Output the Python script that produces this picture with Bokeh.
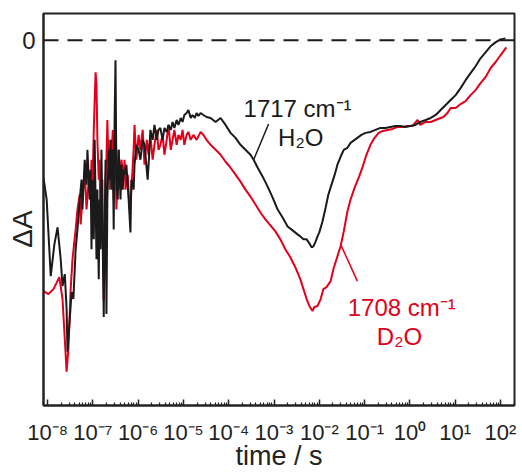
import math
from bokeh.plotting import figure
from bokeh.models import FixedTicker, CustomJSTickFormatter, Span, Label
from bokeh.embed import file_html
from bokeh.resources import INLINE

# ---- data: log10(time / s) and ΔA (arb. units) ----
black_logt = [-8.09, -8.02, -7.93, -7.85, -7.78, -7.71, -7.67, -7.62, -7.58, -7.56, -7.51, -7.47, -7.43, -7.38,
              -7.34, -7.29, -7.25, -7.23, -7.18, -7.14, -7.12, -7.07, -7.05, -7.03, -7.01, -6.98, -6.96, -6.94,
              -6.92, -6.90, -6.87, -6.85, -6.83, -6.81, -6.79, -6.76, -6.74, -6.72, -6.70, -6.68, -6.65, -6.63,
              -6.61, -6.59, -6.56, -6.54, -6.52, -6.50, -6.48, -6.45, -6.43, -6.41, -6.39, -6.37, -6.34, -6.32,
              -6.30, -6.26, -6.21, -6.17, -6.15, -6.10, -6.08, -6.04, -5.99, -5.95, -5.90, -5.86, -5.79, -5.75,
              -5.73, -5.68, -5.64, -5.59, -5.55, -5.51, -5.46, -5.42, -5.37, -5.33, -5.28, -5.24, -5.20, -5.15,
              -5.11, -5.06, -5.02, -4.98, -4.93, -4.89, -4.84, -4.80, -4.75, -4.71, -4.67, -4.62, -4.56, -4.49,
              -4.40, -4.29, -4.18, -4.07, -3.96, -3.85, -3.74, -3.63, -3.52, -3.45, -3.36, -3.25, -3.14, -3.03,
              -2.92, -2.81, -2.70, -2.59, -2.48, -2.42, -2.35, -2.28, -2.22, -2.17, -2.13, -2.08, -2.04, -2.00,
              -1.93, -1.86, -1.80, -1.73, -1.66, -1.60, -1.53, -1.46, -1.38, -1.31, -1.22, -1.16, -1.07, -0.98,
              -0.87, -0.76, -0.65, -0.54, -0.43, -0.32, -0.21, -0.10, 0.01, 0.12, 0.23, 0.35, 0.46, 0.57, 0.68,
              0.79, 0.90, 1.01, 1.12, 1.23, 1.34, 1.45, 1.56, 1.67, 1.78, 1.89, 2.00, 2.11]
black_dA = [-1.38, -1.60, -2.37, -2.05, -1.88, -2.20, -2.47, -2.35, -2.70, -3.13, -2.80, -2.53, -2.60, -2.10,
            -1.90, -1.60, -1.40, -1.70, -1.20, -1.45, -1.10, -1.60, -1.30, -2.10, -1.40, -2.00, -1.00, -1.60,
            -2.20, -1.50, -2.40, -1.60, -2.10, -1.10, -1.80, -2.78, -1.90, -1.20, -2.75, -1.60, -1.10, -1.40,
            -1.00, -1.50, -1.10, -1.90, -0.80, -0.20, -1.40, -1.60, -1.10, -1.30, -1.60, -1.25, -1.50, -1.30,
            -1.35, -1.25, -1.60, -1.93, -1.40, -1.50, -1.25, -1.05, -1.10, -1.20, -1.00, -1.05, -1.40, -1.10,
            -0.90, -1.00, -0.85, -1.00, -0.90, -0.88, -1.00, -0.88, -0.92, -0.85, -0.90, -0.82, -0.88, -0.80,
            -0.85, -0.78, -0.82, -0.75, -0.73, -0.70, -0.78, -0.75, -0.78, -0.73, -0.76, -0.73, -0.75, -0.77,
            -0.78, -0.82, -0.78, -0.85, -0.93, -0.98, -1.05, -1.10, -1.15, -1.20, -1.28, -1.37, -1.47, -1.58,
            -1.70, -1.78, -1.87, -1.91, -1.95, -1.97, -2.00, -2.00, -2.04, -2.08, -2.07, -2.02, -1.97, -1.93,
            -1.82, -1.68, -1.55, -1.45, -1.35, -1.25, -1.17, -1.10, -1.08, -1.03, -1.00, -0.98, -0.95, -0.93,
            -0.92, -0.90, -0.88, -0.88, -0.87, -0.86, -0.86, -0.87, -0.86, -0.85, -0.82, -0.80, -0.78, -0.75,
            -0.70, -0.65, -0.60, -0.55, -0.48, -0.40, -0.33, -0.26, -0.18, -0.12, -0.06, -0.02, 0.01, 0.02]

red_logt = [-8.09, -7.98, -7.87, -7.74, -7.67, -7.62, -7.58, -7.54, -7.49, -7.45, -7.38, -7.34, -7.29, -7.27,
            -7.23, -7.18, -7.14, -7.09, -7.05, -7.03, -7.01, -6.98, -6.96, -6.94, -6.92, -6.90, -6.87, -6.85,
            -6.83, -6.81, -6.79, -6.76, -6.74, -6.72, -6.70, -6.68, -6.65, -6.63, -6.61, -6.59, -6.56, -6.54,
            -6.52, -6.50, -6.48, -6.45, -6.43, -6.41, -6.39, -6.37, -6.34, -6.32, -6.30, -6.28, -6.23, -6.19,
            -6.15, -6.10, -6.08, -6.04, -5.99, -5.95, -5.90, -5.86, -5.81, -5.77, -5.73, -5.68, -5.64, -5.59,
            -5.55, -5.51, -5.46, -5.42, -5.37, -5.33, -5.28, -5.24, -5.20, -5.15, -5.11, -5.06, -5.02, -4.98,
            -4.93, -4.89, -4.84, -4.78, -4.71, -4.62, -4.56, -4.49, -4.40, -4.29, -4.18, -4.07, -3.96, -3.85,
            -3.74, -3.63, -3.52, -3.41, -3.30, -3.19, -3.08, -2.97, -2.86, -2.75, -2.64, -2.53, -2.42, -2.35,
            -2.28, -2.22, -2.15, -2.11, -2.04, -1.97, -1.91, -1.84, -1.75, -1.69, -1.60, -1.53, -1.46, -1.38,
            -1.31, -1.22, -1.13, -1.05, -0.96, -0.87, -0.78, -0.69, -0.60, -0.49, -0.38, -0.27, -0.16, -0.05,
            0.06, 0.17, 0.23, 0.35, 0.46, 0.57, 0.68, 0.74, 0.83, 0.90, 1.01, 1.12, 1.23, 1.34, 1.45, 1.56,
            1.67, 1.78, 1.89, 2.00, 2.13]
red_dA = [-2.52, -2.55, -2.50, -2.38, -2.60, -3.00, -3.33, -3.10, -2.50, -2.20, -1.90, -1.70, -1.55, -1.85,
          -1.60, -1.30, -1.70, -1.40, -1.60, -1.20, -1.50, -0.90, -0.60, -0.32, -0.45, -1.00, -1.40, -1.20,
          -2.00, -1.60, -1.40, -2.60, -2.10, -1.40, -1.20, -0.80, -1.30, -1.50, -1.00, -1.20, -0.90, -1.60,
          -1.10, -1.25, -1.70, -1.30, -1.10, -1.35, -1.50, -1.20, -1.30, -1.40, -1.20, -1.50, -1.35, -1.70,
          -1.50, -1.10, -0.85, -1.20, -0.95, -1.10, -0.90, -1.25, -1.00, -1.15, -0.95, -1.20, -1.05, -0.90,
          -1.10, -1.05, -0.95, -1.15, -1.00, -0.85, -1.10, -1.00, -0.90, -1.05, -0.95, -1.00, -0.90, -1.05,
          -0.95, -0.92, -1.00, -0.95, -1.00, -0.92, -0.95, -1.00, -1.05, -1.10, -1.15, -1.22, -1.28, -1.35,
          -1.42, -1.50, -1.57, -1.65, -1.73, -1.80, -1.86, -1.92, -2.00, -2.10, -2.18, -2.28, -2.40, -2.50,
          -2.60, -2.67, -2.72, -2.68, -2.67, -2.60, -2.50, -2.48, -2.42, -2.30, -2.17, -2.07, -1.92, -1.72,
          -1.60, -1.48, -1.38, -1.28, -1.15, -1.05, -0.98, -0.93, -0.91, -0.90, -0.89, -0.87, -0.87, -0.86,
          -0.86, -0.80, -0.85, -0.82, -0.82, -0.80, -0.78, -0.77, -0.73, -0.68, -0.68, -0.64, -0.61, -0.55,
          -0.50, -0.43, -0.37, -0.28, -0.22, -0.15, -0.07]

x_tick_exponents = list(range(-8, 3))
y_ticks = [0]

BLACK = "#1a1a1a"
RED = "#e2001a"
FONT = "Liberation Sans"

black_t = [10 ** v for v in black_logt]
red_t = [10 ** v for v in red_logt]

p = figure(width=522, height=473, x_axis_type="log",
           x_range=(10 ** -8.09, 10 ** 2.31), y_range=(-3.67, 0.27),
           toolbar_location=None, output_backend="svg",
           min_border_left=43, min_border_right=8, min_border_top=13, min_border_bottom=66)
p.grid.visible = False
p.background_fill_color = "white"
p.border_fill_color = "white"
p.outline_line_color = "#222222"
p.outline_line_width = 2

p.add_layout(Span(location=0, dimension="width", line_color=BLACK, line_width=2, line_dash="15 9"))

p.line(red_t, red_dA, line_color=RED, line_width=2)
p.line(black_t, black_dA, line_color=BLACK, line_width=2)

# x axis
xa = p.xaxis[0]
xa.ticker = FixedTicker(ticks=[10.0 ** e for e in x_tick_exponents],
                        minor_ticks=[m * 10.0 ** e for e in x_tick_exponents for m in range(2, 10)])
xa.formatter = CustomJSTickFormatter(code=r"""
const sup = {"-":"\u207B","0":"\u2070","1":"\u00B9","2":"\u00B2","3":"\u00B3","4":"\u2074",
             "5":"\u2075","6":"\u2076","7":"\u2077","8":"\u2078","9":"\u2079"};
const e = Math.round(Math.log10(tick));
return "10" + String(e).split("").map(c => sup[c]).join("");
""")
xa.major_tick_in = 6
xa.major_tick_out = 0
xa.minor_tick_in = 3
xa.minor_tick_out = 0
xa.axis_line_color = "#222222"
xa.axis_line_width = 2
xa.major_tick_line_color = "#222222"
xa.minor_tick_line_color = "#222222"
xa.major_tick_line_width = 1.5
xa.minor_tick_line_width = 1.2
xa.major_label_text_font = FONT
xa.major_label_text_font_size = "22px"
xa.major_label_text_color = "#222222"
xa.major_label_standoff = 14
xa.axis_label = "time / s"
xa.axis_label_text_font = FONT
xa.axis_label_text_font_size = "27px"
xa.axis_label_text_font_style = "normal"
xa.axis_label_text_color = "#222222"
xa.axis_label_standoff = -7

# y axis
ya = p.yaxis[0]
ya.ticker = FixedTicker(ticks=y_ticks)
ya.major_tick_in = 0
ya.major_tick_out = 0
ya.minor_tick_in = 0
ya.minor_tick_out = 0
ya.axis_line_color = "#222222"
ya.axis_line_width = 2
ya.major_label_text_font = FONT
ya.major_label_text_font_size = "24px"
ya.major_label_text_color = "#222222"
ya.major_label_standoff = 8
ya.axis_label = "ΔA\u00A0\u00A0\u00A0\u00A0\u00A0"
ya.axis_label_text_font = FONT
ya.axis_label_text_font_size = "28px"
ya.axis_label_text_font_style = "normal"
ya.axis_label_text_color = "#222222"
ya.axis_label_standoff = -19

# annotations
p.add_layout(Label(x=10 ** -2.48, y=-0.68, text="1717 cm\u207B\u00B9", text_align="center",
                   text_baseline="alphabetic", text_font=FONT, text_font_size="24px", text_color=BLACK))
p.add_layout(Label(x=10 ** -2.41, y=-0.98, text="H\u2082O", text_align="center",
                   text_baseline="alphabetic", text_font=FONT, text_font_size="24px", text_color=BLACK))
p.line([10 ** -3.45, 10 ** -3.12], [-1.20, -0.84], line_color=BLACK, line_width=1.5)

p.add_layout(Label(x=10 ** -0.18, y=-2.68, text="1708 cm\u207B\u00B9", text_align="center",
                   text_baseline="alphabetic", text_font=FONT, text_font_size="24px", text_color=RED))
p.add_layout(Label(x=10 ** -0.23, y=-2.98, text="D\u2082O", text_align="center",
                   text_baseline="alphabetic", text_font=FONT, text_font_size="24px", text_color=RED))
p.line([10 ** -1.53, 10 ** -1.16], [-2.05, -2.42], line_color=RED, line_width=1.5)

with open("out.html", "w", encoding="utf-8") as f:
    f.write(file_html(p, INLINE))
